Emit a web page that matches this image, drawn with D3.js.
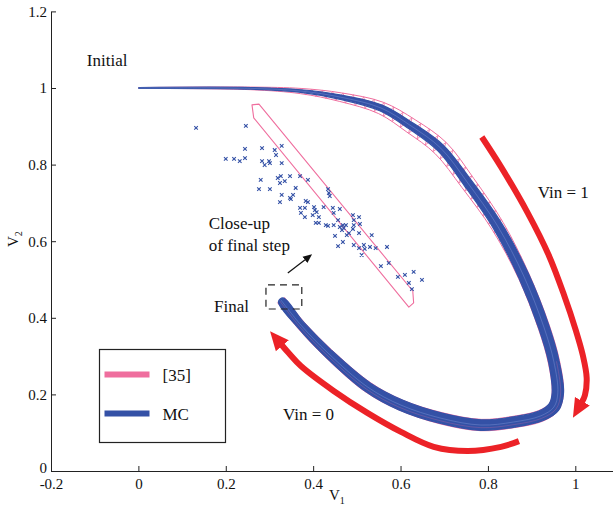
<!DOCTYPE html>
<html>
<head>
<meta charset="utf-8">
<script src="https://cdn.jsdelivr.net/npm/d3@7"></script>
<style>
body { margin: 0; background: #fff; }
</style>
</head>
<body>
<svg id="chart" width="613" height="508"></svg>
<script>
var serif = '"Liberation Serif", serif';

// values (v1, v2)
var xTicks = [-0.2, 0, 0.2, 0.4, 0.6, 0.8, 1];
var yTicks = [0, 0.2, 0.4, 0.6, 0.8, 1, 1.2];

// Monte Carlo trajectories: centre of the bundle and its half spread (in v units)
var mcCenter = [[0,1.0],[0.257,0.999],[0.372,0.992],[0.463,0.976],[0.555,0.948],[0.624,0.901],[0.692,0.843],
  [0.754,0.752],[0.822,0.640],[0.882,0.509],[0.928,0.376],[0.951,0.285],[0.960,0.204],[0.951,0.167],
  [0.921,0.144],[0.859,0.128],[0.784,0.120],[0.692,0.138],[0.601,0.172],[0.525,0.219],[0.434,0.308],
  [0.372,0.381],[0.326,0.447]];
var mcSpread = [0.001,0.002,0.003,0.005,0.007,0.008,0.009,0.010,0.011,0.012,0.012,0.012,0.013,0.013,
  0.012,0.012,0.012,0.012,0.012,0.011,0.010,0.009,0.007];
// [35] envelope spread around the same centre
var refSpread = [0.001,0.003,0.006,0.010,0.014,0.017,0.018,0.017,0.015,0.013,0.013,0.013,0.013,0.013,
  0.013,0.013,0.013,0.013,0.012,0.012,0.011,0.010,0.010];

// close-up of final step
var closeUpRegion = [[0.260,0.956],[0.276,0.958],[0.628,0.470],[0.630,0.439],[0.619,0.428],[0.264,0.922]];
var closeUpSamples = [[0.132,0.896],[0.246,0.901],[0.200,0.815],[0.219,0.815],[0.232,0.809],[0.244,0.817],[0.244,0.841],
  [0.283,0.843],[0.312,0.838],[0.315,0.825],[0.328,0.849],[0.283,0.809],[0.289,0.799],[0.299,0.809],[0.301,0.804],
  [0.328,0.804],[0.280,0.760],[0.276,0.736],[0.301,0.736],[0.319,0.765],[0.326,0.770],[0.324,0.752],[0.335,0.757],
  [0.347,0.770],[0.370,0.770],[0.388,0.760],[0.360,0.739],[0.328,0.721],[0.324,0.702],[0.347,0.713],[0.354,0.721],
  [0.349,0.710],[0.383,0.705],[0.388,0.702],[0.370,0.687],[0.381,0.687],[0.372,0.674],[0.381,0.663],[0.402,0.689],
  [0.404,0.681],[0.399,0.668],[0.408,0.676],[0.413,0.663],[0.406,0.648],[0.413,0.648],[0.424,0.689],[0.434,0.736],
  [0.436,0.726],[0.438,0.718],[0.445,0.687],[0.447,0.674],[0.461,0.684],[0.457,0.655],[0.429,0.642],[0.434,0.640],
  [0.447,0.642],[0.461,0.637],[0.468,0.642],[0.470,0.634],[0.475,0.642],[0.466,0.629],[0.482,0.621],[0.477,0.616],
  [0.491,0.668],[0.505,0.663],[0.493,0.655],[0.493,0.642],[0.507,0.645],[0.491,0.632],[0.505,0.621],[0.450,0.614],
  [0.457,0.587],[0.468,0.598],[0.534,0.616],[0.493,0.590],[0.516,0.590],[0.518,0.580],[0.505,0.582],[0.511,0.564],
  [0.530,0.585],[0.543,0.582],[0.569,0.585],[0.555,0.535],[0.573,0.543],[0.594,0.507],[0.610,0.512],[0.619,0.491],
  [0.630,0.520],[0.649,0.499],[0.626,0.475]];

// red direction arrows
var arrowVin1 = [[0.786,0.872],[0.830,0.794],[0.891,0.674],[0.939,0.564],[0.974,0.460],[1.001,0.368],
  [1.017,0.303],[1.026,0.243],[1.022,0.198],[1.015,0.180]];
var arrowVin0 = [[0.871,0.078],[0.830,0.063],[0.754,0.052],[0.676,0.063],[0.601,0.102],[0.525,0.151],
  [0.447,0.209],[0.372,0.274],[0.344,0.308],[0.328,0.329]];
var closeUpPointer = [[0.342,0.517],[0.383,0.553]];
var finalBox = [[0.292,0.486],[0.374,0.423]];

var labels = [
  {text: 'Initial', pos: [-0.118, 1.057]},
  {text: 'Vin = 1', pos: [0.914, 0.713]},
  {text: 'Close-up', pos: [0.161, 0.632]},
  {text: 'of final step', pos: [0.161, 0.574]},
  {text: 'Final', pos: [0.173, 0.415]},
  {text: 'Vin = 0', pos: [0.331, 0.133]}
];
var legendNames = ['[35]', 'MC'];

var blue = '#3451a6', pink = '#ef6e9e', red = '#ec2227';

var svg = d3.select('#chart');
var x = d3.scaleLinear().domain([-0.2, 1.1]).range([51, 619]);
var y = d3.scaleLinear().domain([0, 1.2]).range([471, 11.4]);
var kx = x(1) - x(0); // px per v unit

var line = d3.line().x(function (d) { return x(d[0]); }).y(function (d) { return y(d[1]); })
  .curve(d3.curveCatmullRom.alpha(0.5));
var pxLine = d3.line().curve(d3.curveCatmullRom.alpha(0.5));
var closedLine = d3.line().x(function (d) { return x(d[0]); }).y(function (d) { return y(d[1]); })
  .curve(d3.curveLinearClosed);

// offset the centre curve by a spread, left (+1) or right (-1) of the travel direction
function edge(center, spread, side) {
  var pts = center.map(function (d) { return [x(d[0]), y(d[1])]; });
  return pts.map(function (p, i) {
    var a = pts[Math.max(i - 1, 0)], b = pts[Math.min(i + 1, pts.length - 1)];
    var tx = b[0] - a[0], ty = b[1] - a[1], len = Math.sqrt(tx * tx + ty * ty) || 1;
    var w = spread[i] * kx * side;
    return [p[0] + ty / len * w, p[1] - tx / len * w];
  });
}

// arrow heads
var defs = svg.append('defs');
defs.append('marker').attr('id', 'redhead').attr('markerUnits', 'userSpaceOnUse')
  .attr('viewBox', '0 -9 20 18').attr('refX', 1).attr('refY', 0)
  .attr('markerWidth', 20).attr('markerHeight', 18).attr('orient', 'auto')
  .append('path').attr('d', 'M0,-8.5L19,0L0,8.5Z').attr('fill', red);
defs.append('marker').attr('id', 'blackhead').attr('markerUnits', 'userSpaceOnUse')
  .attr('viewBox', '0 -5 10 10').attr('refX', 1).attr('refY', 0)
  .attr('markerWidth', 10).attr('markerHeight', 10).attr('orient', 'auto')
  .append('path').attr('d', 'M0,-4L9,0L0,4Z').attr('fill', '#111');

// axes
var xAxis = d3.axisBottom(x).tickValues(xTicks).tickSizeInner(-5).tickSizeOuter(0).tickPadding(7)
  .tickFormat(function (d) { return String(d); });
var yAxis = d3.axisLeft(y).tickValues(yTicks).tickSizeInner(-5).tickSizeOuter(0).tickPadding(4)
  .tickFormat(function (d) { return String(d); });
var gx = svg.append('g').attr('transform', 'translate(0,' + y(0) + ')').call(xAxis);
var gy = svg.append('g').attr('transform', 'translate(' + x(-0.2) + ',0)').call(yAxis);
[gx, gy].forEach(function (g) {
  g.attr('font-family', null).attr('font-size', null);
  g.selectAll('text').attr('fill', '#111').style('font-family', serif).style('font-size', '15px');
  g.selectAll('line, path').attr('stroke', '#222');
});
// the "0" of v2 sits just above the corner
gy.selectAll('.tick text').filter(function (d) { return d === 0; }).attr('dy', '0.1em');

var xl = svg.append('text').attr('x', 329).attr('y', 500).style('font-family', serif)
  .style('font-size', '15px').attr('fill', '#111');
xl.append('tspan').text('V');
xl.append('tspan').attr('dy', 4).style('font-size', '10px').text('1');
var yl = svg.append('text').attr('transform', 'translate(18,247) rotate(-90)').style('font-family', serif)
  .style('font-size', '15px').attr('fill', '#111');
yl.append('tspan').text('V');
yl.append('tspan').attr('dy', 4).style('font-size', '10px').text('2');

var plot = svg.append('g');

// [35] envelope with its hatch
var refOut = edge(mcCenter, refSpread, 1), refIn = edge(mcCenter, refSpread, -1);
plot.append('path').attr('d', pxLine(refOut)).attr('fill', 'none').attr('stroke', pink).attr('stroke-width', 1);
plot.append('path').attr('d', pxLine(refIn)).attr('fill', 'none').attr('stroke', pink).attr('stroke-width', 1);

var tmpO = plot.append('path').attr('d', pxLine(refOut.slice(2, 11))).attr('fill', 'none');
var tmpI = plot.append('path').attr('d', pxLine(refIn.slice(2, 11))).attr('fill', 'none');
var lo = tmpO.node().getTotalLength(), li = tmpI.node().getTotalLength();
var zig = [];
for (var i = 0; i <= 70; i++) {
  var even = i % 2 === 0;
  var p = (even ? tmpO : tmpI).node().getPointAtLength((i / 70) * (even ? lo : li));
  zig.push([p.x, p.y]);
}
tmpO.remove(); tmpI.remove();
plot.append('path').attr('d', d3.line()(zig)).attr('fill', 'none').attr('stroke', pink).attr('stroke-width', 0.8);

// MC bundle
var mcOut = edge(mcCenter, mcSpread, 1), mcIn = edge(mcCenter, mcSpread, -1);
plot.append('path').attr('d', pxLine(mcOut.concat(mcIn.slice().reverse())))
  .attr('fill', blue).attr('stroke', blue).attr('stroke-width', 1.2);
plot.append('path').attr('d', line(mcCenter)).attr('fill', 'none').attr('stroke', '#6f86cc')
  .attr('stroke-width', 0.7).attr('opacity', 0.8);
plot.append('path').attr('d', pxLine(edge(mcCenter, mcSpread.map(function (s) { return s / 2; }), 1).slice(11)))
  .attr('fill', 'none').attr('stroke', pink).attr('stroke-width', 0.5).attr('opacity', 0.5);

// close-up region and samples
plot.append('path').attr('d', closedLine(closeUpRegion)).attr('fill', 'none')
  .attr('stroke', pink).attr('stroke-width', 1.1).attr('stroke-linejoin', 'round');
plot.selectAll('path.sample').data(closeUpSamples).enter().append('path').attr('class', 'sample')
  .attr('transform', function (d) { return 'translate(' + x(d[0]) + ',' + y(d[1]) + ')'; })
  .attr('d', 'M-1.8,-1.8L1.8,1.8M-1.8,1.8L1.8,-1.8')
  .attr('stroke', blue).attr('stroke-width', 1.1);

// red arrows
[arrowVin1, arrowVin0].forEach(function (a) {
  svg.append('path').attr('d', line(a)).attr('fill', 'none').attr('stroke', red)
    .attr('stroke-width', 6).attr('marker-end', 'url(#redhead)');
});

// pointer + dashed box
svg.append('path').attr('d', d3.line()(closeUpPointer.map(function (d) { return [x(d[0]), y(d[1])]; })))
  .attr('stroke', '#111').attr('stroke-width', 1.2).attr('marker-end', 'url(#blackhead)');
svg.append('rect').attr('x', x(finalBox[0][0])).attr('y', y(finalBox[0][1]))
  .attr('width', x(finalBox[1][0]) - x(finalBox[0][0])).attr('height', y(finalBox[1][1]) - y(finalBox[0][1]))
  .attr('fill', 'none').attr('stroke', '#222').attr('stroke-width', 1.2).attr('stroke-dasharray', '7,5')
  .attr('stroke-dashoffset', -2);

svg.selectAll('text.note').data(labels).enter().append('text').attr('class', 'note')
  .attr('x', function (d) { return x(d.pos[0]); }).attr('y', function (d) { return y(d.pos[1]); })
  .style('font-family', serif).style('font-size', '17px').attr('fill', '#111').text(function (d) { return d.text; });

// legend
var lg = svg.append('g').attr('transform', 'translate(99.5,349.5)');
lg.append('rect').attr('width', 126).attr('height', 93).attr('fill', '#fff').attr('stroke', '#222').attr('stroke-width', 1.2);
legendNames.forEach(function (n, i) {
  lg.append('line').attr('x1', 5).attr('x2', 50).attr('y1', 25 + i * 39).attr('y2', 25 + i * 39)
    .attr('stroke', i === 0 ? pink : blue).attr('stroke-width', 6);
  lg.append('text').attr('x', 63).attr('y', 31 + i * 39).style('font-family', serif).style('font-size', '17px')
    .attr('fill', '#111').text(n);
});
</script>
</body>
</html>
